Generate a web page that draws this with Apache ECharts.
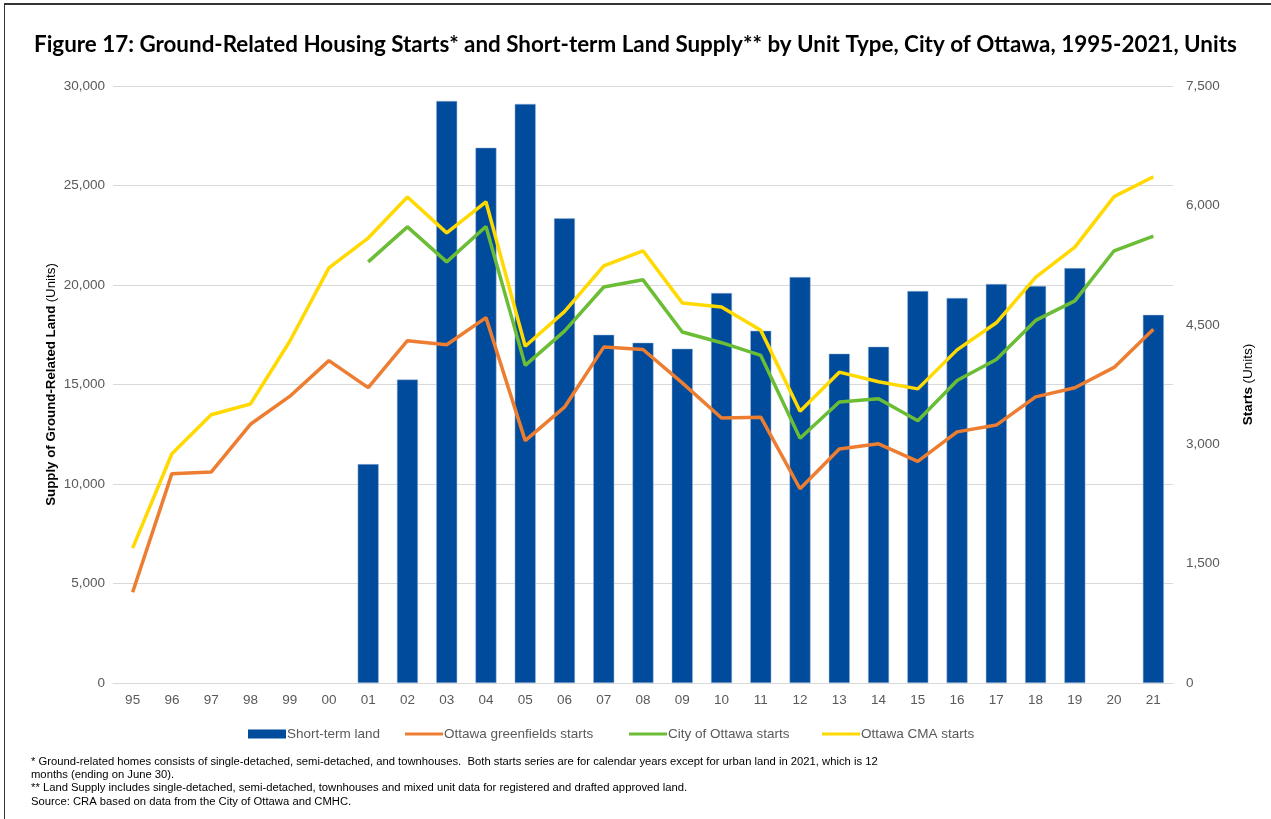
<!DOCTYPE html>
<html>
<head>
<meta charset="utf-8">
<script src="https://cdn.jsdelivr.net/npm/echarts@6/dist/echarts.min.js"></script>
<style>
  html, body { margin: 0; padding: 0; background: #fff; }
  #frame {
    position: absolute; left: 4px; top: 3px; width: 1267px; height: 816px;
    border-top: 2px solid #333; border-left: 1px solid #333;
  }
  #chart { position: absolute; left: 0; top: 0; width: 1271px; height: 819px; }
</style>
</head>
<body>
<div id="frame"></div>
<div id="chart"></div>
<script>
// 年份（横轴）
const years = ['95','96','97','98','99','00','01','02','03','04','05','06','07','08','09','10','11','12','13','14','15','16','17','18','19','20','21']

// 短期土地供应（左轴）
const shortTermLand = [null,null,null,null,null,null,11000,15250,29250,26900,29100,23350,17500,17100,16800,19600,17700,20400,16550,16900,19700,19350,20050,19950,20850,null,18500]

// 开工数（右轴）
const greenfieldsStarts = [1140,2630,2650,3250,3600,4050,3710,4300,4250,4590,3045,3465,4220,4190,3770,3330,3340,2440,2940,3005,2785,3155,3240,3595,3710,3965,4445]
const cityStarts = [null,null,null,null,null,null,5290,5730,5290,5735,3990,4420,4975,5065,4410,4275,4115,3075,3530,3570,3295,3800,4065,4555,4800,5430,5615]
const cmaStarts = [1695,2880,3370,3505,4290,5215,5590,6105,5655,6045,4230,4665,5240,5430,4775,4725,4430,3415,3905,3785,3695,4185,4525,5095,5475,6110,6360]

// 坐标轴
const leftMax = 30000
const leftInterval = 5000
const rightMax = 7500
const rightInterval = 1500

const footnotes = [
  '* Ground-related homes consists of single-detached, semi-detached, and townhouses.  Both starts series are for calendar years except for urban land in 2021, which is 12',
  'months (ending on June 30).',
  '** Land Supply includes single-detached, semi-detached, townhouses and mixed unit data for registered and drafted approved land.',
  'Source: CRA based on data from the City of Ottawa and CMHC.'
]
const footY = [762, 775, 788, 802]

const labelColor = '#595959'
const axisFont = 'Liberation Sans, Arial, sans-serif'
// 折线图例：细线
const lineIcon = 'path://M0,0M0,3.2L40,3.2L40,6.2L0,6.2ZM40,9.4'

// 图例：名称、图标、水平位置
const legendNames = ['Short-term land', 'Ottawa greenfields starts', 'City of Ottawa starts', 'Ottawa CMA starts']
const legendIcons = ['rect', lineIcon, lineIcon, lineIcon]
const legendLeft = [243, 400, 624, 817]

let myChart = echarts.init(document.getElementById('chart'))

let options = {
  animation: false,
  title: {
    text: 'Figure 17: Ground-Related Housing Starts* and Short-term Land Supply** by Unit Type, City of Ottawa, 1995-2021, Units',
    left: 29,
    top: 29,
    textStyle: {
      fontFamily: 'Lato, sans-serif',
      fontSize: 22.4,
      fontWeight: 'bold',
      color: '#000'
    }
  },
  grid: {
    left: 113,
    right: 98,
    top: 86,
    bottom: 136
  },
  legend: legendNames.map((n, i) => ({
    left: legendLeft[i],
    top: 722,
    itemWidth: 38,
    itemHeight: 9,
    itemStyle: { borderWidth: 0 },
    textStyle: { fontFamily: axisFont, fontSize: 13.5, color: labelColor, padding: [0, 0, 0, -4] },
    data: [{ name: n, icon: legendIcons[i] }]
  })),
  xAxis: {
    type: 'category',
    data: years,
    axisLine: { lineStyle: { color: '#d9d9d9', width: 1 } },
    axisTick: { show: false },
    axisLabel: { fontFamily: axisFont, fontSize: 13.5, color: labelColor, margin: 10 }
  },
  yAxis: [
    {
      type: 'value',
      min: 0,
      max: leftMax,
      interval: leftInterval,
      name: '{b|Supply of Ground-Related Land} {n|(Units)}',
      nameLocation: 'middle',
      nameGap: 55,
      nameMoveOverlap: false,
      nameRotate: 90,
      nameTextStyle: {
        rich: {
          b: { fontFamily: axisFont, fontSize: 13.3, fontWeight: 'bold', color: '#000' },
          n: { fontFamily: axisFont, fontSize: 13.3, color: '#000' }
        }
      },
      axisLine: { show: false },
      axisTick: { show: false },
      axisLabel: {
        fontFamily: axisFont, fontSize: 13.5, color: labelColor, margin: 8,
        formatter: (v) => v.toLocaleString('en-US')
      },
      splitLine: { lineStyle: { color: '#d9d9d9', width: 1 } }
    },
    {
      type: 'value',
      min: 0,
      max: rightMax,
      interval: rightInterval,
      name: '{b|Starts} {n|(Units)}',
      nameLocation: 'middle',
      nameGap: 68,
      nameRotate: 90,
      nameTextStyle: {
        rich: {
          b: { fontFamily: axisFont, fontSize: 13.5, fontWeight: 'bold', color: '#000' },
          n: { fontFamily: axisFont, fontSize: 13.5, color: '#000' }
        }
      },
      axisLine: { show: false },
      axisTick: { show: false },
      axisLabel: {
        fontFamily: axisFont, fontSize: 13.5, color: labelColor, margin: 13,
        formatter: (v) => v.toLocaleString('en-US')
      },
      splitLine: { show: false }
    }
  ],
  series: [
    {
      name: 'Short-term land',
      type: 'bar',
      yAxisIndex: 0,
      data: shortTermLand,
      barWidth: 21,
      itemStyle: { color: '#004b9b', borderColor: '#9fb9d9', borderWidth: 0.5 }
    },
    {
      name: 'Ottawa greenfields starts',
      type: 'line',
      yAxisIndex: 1,
      data: greenfieldsStarts,
      symbol: 'none',
      lineStyle: { color: '#ed7d31', width: 3.5 },
      itemStyle: { color: '#ed7d31' }
    },
    {
      name: 'City of Ottawa starts',
      type: 'line',
      yAxisIndex: 1,
      data: cityStarts,
      symbol: 'none',
      lineStyle: { color: '#6bbd35', width: 3.5 },
      itemStyle: { color: '#6bbd35' }
    },
    {
      name: 'Ottawa CMA starts',
      type: 'line',
      yAxisIndex: 1,
      data: cmaStarts,
      symbol: 'none',
      lineStyle: { color: '#ffd900', width: 3.5 },
      itemStyle: { color: '#ffd900' }
    }
  ],
  graphic: footnotes.map((t, i) => ({
    type: 'text',
    left: 31,
    top: footY[i] - 6,
    style: {
      text: t,
      fontFamily: axisFont,
      fontSize: 11.25,
      fill: '#000'
    }
  }))
}

myChart.setOption(options)
</script>
</body>
</html>
